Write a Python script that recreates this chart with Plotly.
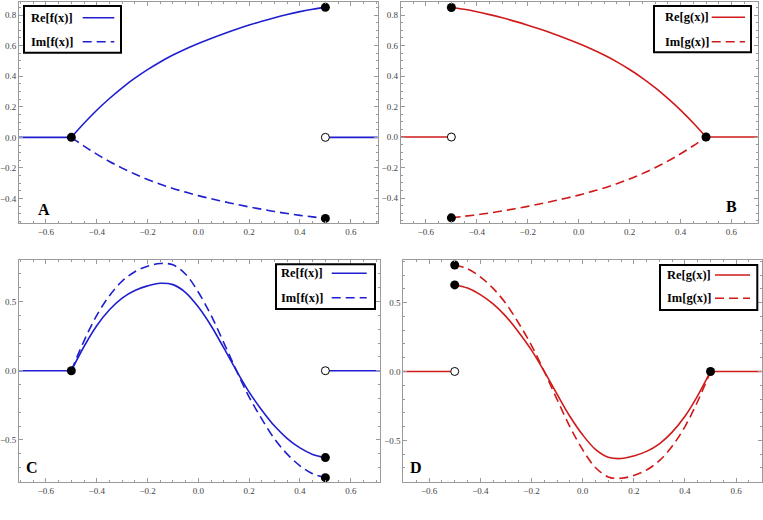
"""Four framed panels: Re/Im of f(x) and g(x)."""

import plotly.graph_objects as go

W, H = 763, 520
BLUE = "#1f1fd0"
RED = "#d01a1a"
FRAME = "#9a9a9a"

# sampled x for the curved parts
x_curve = [-0.5, -0.45, -0.4, -0.35, -0.3, -0.25, -0.2, -0.15, -0.1, -0.05, 0.0,
           0.05, 0.1, 0.15, 0.2, 0.25, 0.3, 0.35, 0.4, 0.45, 0.5]

# panel A  (f)
re_f_a = [0.0, 0.092, 0.177, 0.254, 0.324, 0.387, 0.443, 0.493, 0.538, 0.578, 0.614,
          0.647, 0.678, 0.707, 0.734, 0.759, 0.782, 0.803, 0.822, 0.838, 0.85]
im_f_a = [0.0, -0.057, -0.11, -0.158, -0.201, -0.24, -0.275, -0.306, -0.334, -0.358, -0.381,
          -0.401, -0.42, -0.438, -0.455, -0.47, -0.485, -0.498, -0.51, -0.52, -0.53]

# panel B  (g)
re_g_b = [0.85, 0.838, 0.822, 0.803, 0.782, 0.759, 0.734, 0.707, 0.678, 0.647, 0.614,
          0.578, 0.538, 0.493, 0.443, 0.387, 0.324, 0.254, 0.177, 0.092, 0.0]
im_g_b = [-0.53, -0.52, -0.51, -0.498, -0.485, -0.47, -0.455, -0.438, -0.42, -0.401, -0.381,
          -0.358, -0.334, -0.306, -0.275, -0.24, -0.201, -0.158, -0.11, -0.057, 0.0]

# panel C  (f)
re_f_c = [0.0, 0.175, 0.325, 0.44, 0.525, 0.58, 0.613, 0.632, 0.622, 0.565, 0.46,
          0.325, 0.165, 0.0, -0.155, -0.285, -0.40, -0.49, -0.558, -0.605, -0.628]
im_f_c = [0.0, 0.216, 0.40, 0.542, 0.647, 0.715, 0.755, 0.775, 0.765, 0.697, 0.567,
          0.40, 0.203, 0.0, -0.19, -0.35, -0.493, -0.603, -0.687, -0.745, -0.773]

# panel D  (g)
re_g_d = [0.628, 0.605, 0.558, 0.49, 0.40, 0.285, 0.155, 0.0, -0.165, -0.325, -0.46,
          -0.565, -0.622, -0.632, -0.613, -0.58, -0.525, -0.44, -0.325, -0.175, 0.0]
im_g_d = [0.773, 0.745, 0.687, 0.603, 0.493, 0.35, 0.19, 0.0, -0.203, -0.40, -0.567,
          -0.697, -0.765, -0.775, -0.755, -0.715, -0.647, -0.542, -0.40, -0.216, 0.0]

# zero pieces outside [-0.5, 0.5]
x_flat_left = [-0.8, -0.5]
x_flat_right = [0.5, 0.8]
y_flat = [0.0, 0.0]

# end points: (filled x, filled y, open x, open y)
dots_a = ([-0.5, 0.5, 0.5], [0.0, 0.85, -0.53], [0.5], [0.0])
dots_b = ([0.5, -0.5, -0.5], [0.0, 0.85, -0.53], [-0.5], [0.0])
dots_c = ([-0.5, 0.5, 0.5], [0.0, -0.628, -0.773], [0.5], [0.0])
dots_d = ([0.5, -0.5, -0.5], [0.0, 0.628, 0.773], [-0.5], [0.0])

panels = [
    dict(letter="A", name="f", color=BLUE, re=re_f_a, im=im_f_a, dots=dots_a,
         box=(19, 377.7, 2, 222.7), xr=[-0.706, 0.706], yr=[-0.558, 0.885], ydt=0.2, ymin=0.05,
         legend=(24, 121, 6, 52.7), lpos=(29, 17.7, 41.7, 82.7, 114.3), lab=(44, 209)),
    dict(letter="B", name="g", color=RED, re=re_g_b, im=im_g_b, dots=dots_b,
         box=(400.7, 757.7, 2, 222.7), xr=[-0.699, 0.703], yr=[-0.562, 0.886], ydt=0.2, ymin=0.05,
         legend=(654, 751, 6, 52.3), lpos=(662.7, 17.3, 41.7, 711.7, 745), lab=(731, 207)),
    dict(letter="C", name="f", color=BLUE, re=re_f_c, im=im_f_c, dots=dots_c,
         box=(19, 380, 260, 481.7), xr=[-0.706, 0.715], yr=[-0.802, 0.80], ydt=0.5, ymin=0.1,
         legend=(276, 375, 264.3, 309), lpos=(278.7, 273.3, 297.7, 331.7, 366.7), lab=(32, 467)),
    dict(letter="D", name="g", color=RED, re=re_g_d, im=im_g_d, dots=dots_d,
         box=(403.3, 761.7, 260, 481.7), xr=[-0.701, 0.70], yr=[-0.80, 0.809], ydt=0.5, ymin=0.1,
         legend=(660, 757.3, 265, 310), lpos=(665, 275, 298.3, 715, 750), lab=(416, 467)),
]

fig = go.Figure()
shapes, annotations = [], []
tick_font = dict(family="Liberation Serif, Times New Roman, serif", size=9, color="#444444")


def px(v):
    return v / W


def py(v):
    return 1 - v / H


for i, p in enumerate(panels, start=1):
    xa, ya = f"x{i}" if i > 1 else "x", f"y{i}" if i > 1 else "y"
    x0, x1, y0, y1 = p["box"]
    common = dict(showline=True, linecolor=FRAME, linewidth=1, mirror="allticks",
                  ticks="inside", ticklen=4, tickcolor=FRAME, showgrid=False, zeroline=False,
                  tickfont=tick_font, tickformat=".1f", automargin=False)
    fig.update_layout(**{
        ("xaxis" if i == 1 else f"xaxis{i}"): dict(
            common, domain=[px(x0), px(x1)], range=p["xr"], anchor=ya, dtick=0.2, tick0=0,
            minor=dict(ticks="inside", ticklen=2, dtick=0.05, tick0=0, tickcolor=FRAME)),
        ("yaxis" if i == 1 else f"yaxis{i}"): dict(
            common, domain=[py(y1), py(y0)], range=p["yr"], anchor=xa, dtick=p["ydt"], tick0=0,
            minor=dict(ticks="inside", ticklen=2, dtick=p["ymin"], tick0=0, tickcolor=FRAME)),
    })
    for xf in (x_flat_left, x_flat_right):
        fig.add_trace(go.Scatter(x=xf, y=y_flat, mode="lines", xaxis=xa, yaxis=ya,
                                 line=dict(color=p["color"], width=1.6)))
    fig.add_trace(go.Scatter(x=x_curve, y=p["im"], mode="lines", xaxis=xa, yaxis=ya,
                             line=dict(color=p["color"], width=1.6, dash="9px,5px", shape="spline")))
    fig.add_trace(go.Scatter(x=x_curve, y=p["re"], mode="lines", xaxis=xa, yaxis=ya,
                             line=dict(color=p["color"], width=1.6, shape="spline")))
    fx, fy, ox, oy = p["dots"]
    fig.add_trace(go.Scatter(x=fx, y=fy, mode="markers", xaxis=xa, yaxis=ya, cliponaxis=False,
                             marker=dict(color="black", size=9)))
    fig.add_trace(go.Scatter(x=ox, y=oy, mode="markers", xaxis=xa, yaxis=ya, cliponaxis=False,
                             marker=dict(color="white", size=8, line=dict(color="black", width=1))))

    # legend box drawn by hand (text left, sample right)
    lx0, lx1, ly0, ly1 = p["legend"]
    shapes.append(dict(type="rect", xref="paper", yref="paper", x0=px(lx0), x1=px(lx1),
                       y0=py(ly1), y1=py(ly0), line=dict(color="black", width=2),
                       fillcolor="white", layer="above"))
    tx, yre, yim, sx0, sx1 = p["lpos"]
    for label, yy, dash in ((f"Re[{p['name']}(x)]", yre, "solid"), (f"Im[{p['name']}(x)]", yim, "9px,5px")):
        annotations.append(dict(text=f"<b>{label}</b>", xref="paper", yref="paper", x=px(tx), y=py(yy),
                                xanchor="left", yanchor="middle", showarrow=False,
                                font=dict(family="Liberation Serif", size=12.5, color="black")))
        shapes.append(dict(type="line", xref="paper", yref="paper", x0=px(sx0), x1=px(sx1),
                           y0=py(yy), y1=py(yy), line=dict(color=p["color"], width=1.6, dash=dash),
                           layer="above"))
    lx, ly = p["lab"]
    annotations.append(dict(text=f"<b>{p['letter']}</b>", xref="paper", yref="paper", x=px(lx), y=py(ly),
                            xanchor="center", yanchor="middle", showarrow=False,
                            font=dict(family="Liberation Serif", size=16, color="black")))

fig.update_layout(width=W, height=H, margin=dict(l=0, r=0, t=0, b=0), showlegend=False,
                  plot_bgcolor="white", paper_bgcolor="white",
                  shapes=shapes, annotations=annotations)
# page body has an 8px default margin; drop it so the figure sits at (0, 0)
fig.write_html("out.html", config={"displayModeBar": False},
               post_script="document.body.style.margin='0';")
